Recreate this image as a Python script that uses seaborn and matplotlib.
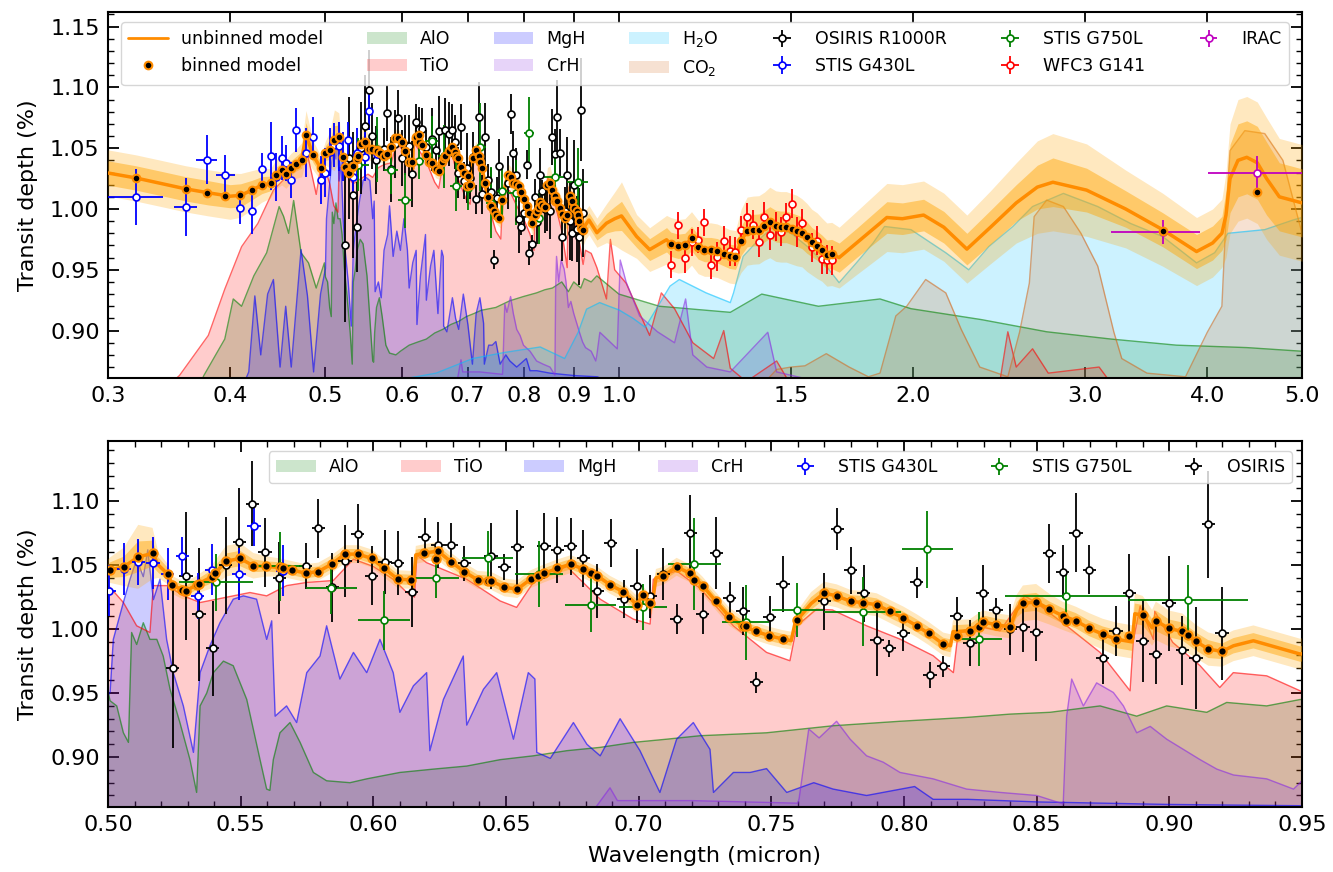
import matplotlib
matplotlib.use("Agg")
import matplotlib.pyplot as plt
from matplotlib.patches import Patch
from matplotlib.lines import Line2D
from matplotlib.ticker import MultipleLocator, FixedLocator, FixedFormatter, NullLocator
import seaborn as sns
import numpy as np

sns.set_style("ticks", {"axes.edgecolor": "black", "xtick.color": "black", "ytick.color": "black",
                        "text.color": "black", "axes.labelcolor": "black"})
plt.rcParams["font.family"] = ["DejaVu Sans"]

# ---- unbinned model (wavelength in micron, transit depth in %) + 1/2 sigma half widths
model_wl = [0.300, 0.320, 0.340, 0.360, 0.380, 0.400, 0.410, 0.421, 0.431, 0.440, 0.4454, 0.4517,
            0.4563, 0.4617, 0.4672, 0.4735, 0.4783, 0.4865, 0.4952,
            0.5008, 0.5060, 0.5114, 0.5168, 0.5190, 0.5225, 0.5242, 0.5280, 0.5294, 0.5334, 0.5391,
            0.5445, 0.5498, 0.5548, 0.5594, 0.5648, 0.5695, 0.5745, 0.5793, 0.5843, 0.5893, 0.5943,
            0.5994, 0.6041, 0.6092, 0.6142, 0.6150, 0.6160, 0.6192, 0.6243, 0.6293, 0.6343, 0.6393,
            0.6444, 0.6494, 0.6543, 0.6593, 0.6643, 0.6693, 0.6744, 0.6791, 0.6844, 0.6892, 0.6942,
            0.6993, 0.7015, 0.7043, 0.7050, 0.7065, 0.7093, 0.7143, 0.7194, 0.7241, 0.7292, 0.7342,
            0.7392, 0.7442, 0.7493, 0.7543, 0.7575, 0.7590, 0.7598, 0.7650, 0.7699, 0.7746, 0.7799,
            0.7844, 0.7897, 0.7947, 0.7998, 0.8048, 0.8093, 0.8148, 0.8175, 0.8185, 0.8247, 0.8297,
            0.8347, 0.8400, 0.8425, 0.8448, 0.8498, 0.8548, 0.8598, 0.8648, 0.8698, 0.8749, 0.8799,
            0.8860, 0.8870, 0.8900, 0.8935, 0.8949, 0.8999, 0.9049, 0.9100, 0.9147, 0.9198, 0.9242,
            0.9317, 0.9405, 0.9493,
            0.9710, 0.9900, 1.0060, 1.0424, 1.0750, 1.1187, 1.1300, 1.1496, 1.1680, 1.1865, 1.2050,
            1.2233, 1.2417, 1.2603, 1.2795, 1.2976, 1.3160, 1.3336, 1.3526, 1.3720, 1.3905, 1.4090,
            1.4268, 1.4470, 1.4640, 1.4830, 1.5020, 1.5200, 1.5390, 1.5570, 1.5750, 1.5950, 1.6130,
            1.6320, 1.6510, 1.6800, 1.7500, 1.8800, 1.9500, 2.0500, 2.1500, 2.2700, 2.4000, 2.5500,
            2.6800, 2.7800, 3.0100, 3.3000, 3.6000, 3.9000, 4.0500, 4.1400, 4.1800, 4.2200, 4.3000,
            4.3900, 4.5000, 4.6000, 4.7400, 5.0000]
model_val = [1.0296, 1.0256, 1.0210, 1.0166, 1.0133, 1.0105, 1.0112, 1.0155, 1.0196, 1.0210, 1.0283, 1.0318,
             1.0290, 1.0337, 1.0372, 1.0405, 1.0610, 1.0440, 1.0337,
             1.0461, 1.0487, 1.0565, 1.0591, 1.0500, 1.0430, 1.0346, 1.0305, 1.0300, 1.0346, 1.0409,
             1.0531, 1.0552, 1.0495, 1.0490, 1.0482, 1.0461, 1.0437, 1.0450, 1.0508, 1.0586, 1.0586,
             1.0552, 1.0474, 1.0390, 1.0385, 1.0330, 1.0580, 1.0594, 1.0610, 1.0526, 1.0448, 1.0385,
             1.0377, 1.0326, 1.0313, 1.0390, 1.0435, 1.0474, 1.0508, 1.0469, 1.0417, 1.0346, 1.0292,
             1.0190, 1.0268, 1.0201, 1.0180, 1.0400, 1.0417, 1.0487, 1.0435, 1.0339, 1.0216, 1.0096,
             1.0026, 0.9982, 0.9948, 0.9922, 0.9910, 1.0050, 1.0073, 1.0200, 1.0281, 1.0260, 1.0216,
             1.0208, 1.0190, 1.0138, 1.0086, 1.0026, 0.9966, 0.9883, 0.9870, 0.9980, 0.9987, 1.0057,
             1.0034, 1.0018, 1.0150, 1.0201, 1.0213, 1.0156, 1.0104, 1.0065, 1.0005, 0.9961, 0.9922,
             0.9900, 1.0120, 1.0109, 1.0010, 1.0065, 1.0005, 0.9982, 0.9904, 0.9844, 0.9826, 0.9870,
             0.9909, 0.9857, 0.9805,
             0.9883, 0.9920, 0.9943, 0.9774, 0.9666, 0.9747, 0.9710, 0.9693, 0.9700, 0.9758, 0.9688,
             0.9666, 0.9666, 0.9657, 0.9633, 0.9611, 0.9603, 0.9739, 0.9818, 0.9826, 0.9829, 0.9859,
             0.9889, 0.9859, 0.9853, 0.9853, 0.9837, 0.9823, 0.9804, 0.9766, 0.9728, 0.9698, 0.9666,
             0.9625, 0.9630, 0.9600, 0.9720, 0.9930, 0.9920, 0.9950, 0.9850, 0.9670, 0.9850, 1.0050,
             1.0180, 1.0220, 1.0155, 1.0000, 0.9830, 0.9650, 0.9720, 0.9800, 0.9950, 1.0250, 1.0400,
             1.0425, 1.0380, 1.0250, 1.0100, 1.0050]
sig1 = [0.010, 0.010, 0.010, 0.010, 0.010, 0.0095, 0.0095, 0.008, 0.007, 0.006, 0.006, 0.006,
        0.006, 0.006, 0.006, 0.007, 0.010, 0.006, 0.005,
        0.006, 0.008, 0.012, 0.010, 0.006, 0.005, 0.004, 0.004, 0.004, 0.004, 0.005,
        0.006, 0.006, 0.005, 0.004, 0.004, 0.004, 0.004, 0.004, 0.004, 0.004, 0.004,
        0.004, 0.004, 0.004, 0.004, 0.004, 0.004, 0.004, 0.004, 0.004, 0.004, 0.004,
        0.004, 0.004, 0.004, 0.004, 0.004, 0.004, 0.004, 0.004, 0.004, 0.004, 0.004,
        0.004, 0.004, 0.004, 0.004, 0.004, 0.004, 0.004, 0.004, 0.004, 0.004, 0.004,
        0.004, 0.004, 0.004, 0.004, 0.004, 0.004, 0.004, 0.005, 0.005, 0.005, 0.005,
        0.005, 0.005, 0.005, 0.005, 0.005, 0.005, 0.005, 0.005, 0.005, 0.005, 0.005,
        0.005, 0.005, 0.006, 0.007, 0.007, 0.006, 0.006, 0.006, 0.006, 0.006, 0.007,
        0.007, 0.008, 0.008, 0.007, 0.008, 0.007, 0.007, 0.007, 0.007, 0.006, 0.006,
        0.006, 0.006, 0.006,
        0.008, 0.010, 0.012, 0.009, 0.009, 0.010, 0.010, 0.010, 0.010, 0.010, 0.010,
        0.010, 0.010, 0.010, 0.010, 0.010, 0.010, 0.012, 0.013, 0.013, 0.013, 0.013,
        0.013, 0.013, 0.013, 0.013, 0.013, 0.013, 0.013, 0.013, 0.012, 0.012, 0.012,
        0.012, 0.012, 0.012, 0.012, 0.013, 0.013, 0.013, 0.013, 0.013, 0.014, 0.015,
        0.018, 0.020, 0.018, 0.015, 0.014, 0.014, 0.014, 0.014, 0.020, 0.028, 0.030,
        0.030, 0.030, 0.030, 0.028, 0.028]
sig2 = [0.019, 0.019, 0.019, 0.019, 0.019, 0.019, 0.018, 0.016, 0.014, 0.012, 0.012, 0.012,
        0.012, 0.012, 0.012, 0.014, 0.020, 0.012, 0.010,
        0.010, 0.015, 0.025, 0.020, 0.010, 0.008, 0.007, 0.007, 0.007, 0.007, 0.009,
        0.012, 0.012, 0.010, 0.008, 0.007, 0.007, 0.007, 0.007, 0.007, 0.007, 0.007,
        0.007, 0.007, 0.007, 0.007, 0.007, 0.007, 0.007, 0.007, 0.007, 0.007, 0.007,
        0.007, 0.007, 0.007, 0.007, 0.007, 0.007, 0.007, 0.007, 0.007, 0.007, 0.007,
        0.007, 0.007, 0.007, 0.007, 0.007, 0.007, 0.007, 0.007, 0.007, 0.007, 0.007,
        0.007, 0.007, 0.007, 0.007, 0.007, 0.007, 0.007, 0.009, 0.009, 0.009, 0.009,
        0.009, 0.009, 0.009, 0.009, 0.009, 0.009, 0.009, 0.009, 0.009, 0.009, 0.009,
        0.009, 0.009, 0.012, 0.014, 0.014, 0.012, 0.011, 0.011, 0.012, 0.012, 0.013,
        0.013, 0.016, 0.015, 0.014, 0.015, 0.014, 0.014, 0.013, 0.013, 0.012, 0.012,
        0.012, 0.012, 0.012,
        0.016, 0.022, 0.028, 0.018, 0.018, 0.020, 0.022, 0.022, 0.022, 0.022, 0.022,
        0.022, 0.022, 0.022, 0.022, 0.022, 0.022, 0.026, 0.028, 0.028, 0.028, 0.028,
        0.029, 0.029, 0.029, 0.029, 0.029, 0.029, 0.028, 0.028, 0.027, 0.027, 0.026,
        0.026, 0.026, 0.025, 0.026, 0.028, 0.028, 0.028, 0.028, 0.028, 0.030, 0.033,
        0.038, 0.040, 0.038, 0.032, 0.030, 0.028, 0.028, 0.028, 0.035, 0.045, 0.050,
        0.050, 0.050, 0.050, 0.048, 0.048]

# ---- binned model points
binned_wl = [0.3202, 0.3603, 0.3785, 0.3955, 0.4097, 0.4209, 0.4313, 0.4401, 0.4454, 0.4517, 0.4563,
             0.4617, 0.4672, 0.4735, 0.4783, 0.4865, 0.4952,
             0.5008, 0.5060, 0.5114, 0.5168, 0.5225, 0.5242, 0.5280, 0.5294, 0.5334, 0.5343, 0.5391,
             0.5403, 0.5445, 0.5498, 0.5548, 0.5594, 0.5648, 0.5658, 0.5695, 0.5745, 0.5793, 0.5843,
             0.5893, 0.5943, 0.5994, 0.6041, 0.6092, 0.6142, 0.6192, 0.6236, 0.6243, 0.6293, 0.6343,
             0.6393, 0.6431, 0.6444, 0.6494, 0.6543, 0.6593, 0.6622, 0.6643, 0.6693, 0.6744, 0.6791,
             0.6819, 0.6844, 0.6892, 0.6942, 0.6993, 0.7015, 0.7043, 0.7093, 0.7143, 0.7194, 0.7210,
             0.7241, 0.7292, 0.7342, 0.7392, 0.7405, 0.7442, 0.7493, 0.7543, 0.7598, 0.7699, 0.7746,
             0.7799, 0.7844, 0.7897, 0.7947, 0.7998, 0.8048, 0.8093, 0.8148, 0.8199, 0.8247, 0.8284,
             0.8297, 0.8347, 0.8400, 0.8448, 0.8498, 0.8548, 0.8598, 0.8611, 0.8648, 0.8698, 0.8749,
             0.8799, 0.8849, 0.8900, 0.8949, 0.8999, 0.9049, 0.9070, 0.9100, 0.9147, 0.9198,
             1.1300, 1.1496, 1.1680, 1.1865, 1.2050, 1.2233, 1.2417, 1.2603, 1.2795, 1.2976, 1.3160,
             1.3336, 1.3526, 1.3720, 1.3905, 1.4090, 1.4268, 1.4470, 1.4640, 1.4830, 1.5020, 1.5200,
             1.5390, 1.5570, 1.5750, 1.5950, 1.6130, 1.6320, 1.6510, 3.6000, 4.5000]
binned_val = [1.0256, 1.0166, 1.0133, 1.0106, 1.0114, 1.0155, 1.0196, 1.0210, 1.0283, 1.0318, 1.0290,
              1.0337, 1.0372, 1.0405, 1.0610, 1.0440, 1.0337,
              1.0461, 1.0487, 1.0565, 1.0591, 1.0430, 1.0346, 1.0305, 1.0300, 1.0346, 1.0350, 1.0409,
              1.0435, 1.0531, 1.0552, 1.0495, 1.0490, 1.0482, 1.0480, 1.0461, 1.0437, 1.0450, 1.0508,
              1.0586, 1.0586, 1.0552, 1.0474, 1.0390, 1.0385, 1.0594, 1.0550, 1.0610, 1.0526, 1.0448,
              1.0385, 1.0378, 1.0377, 1.0326, 1.0313, 1.0390, 1.0417, 1.0435, 1.0474, 1.0508, 1.0469,
              1.0435, 1.0417, 1.0346, 1.0292, 1.0190, 1.0268, 1.0201, 1.0417, 1.0487, 1.0435, 1.0385,
              1.0339, 1.0216, 1.0096, 1.0026, 1.0021, 0.9982, 0.9948, 0.9922, 1.0073, 1.0281, 1.0260,
              1.0216, 1.0208, 1.0190, 1.0138, 1.0086, 1.0026, 0.9966, 0.9883, 0.9948, 0.9987, 1.0018,
              1.0057, 1.0034, 1.0018, 1.0201, 1.0213, 1.0156, 1.0104, 1.0065, 1.0065, 1.0005, 0.9961,
              0.9922, 0.9948, 1.0109, 1.0065, 1.0005, 0.9982, 0.9953, 0.9904, 0.9844, 0.9826,
              0.9710, 0.9693, 0.9700, 0.9758, 0.9688, 0.9666, 0.9666, 0.9657, 0.9633, 0.9611, 0.9603,
              0.9739, 0.9818, 0.9826, 0.9829, 0.9859, 0.9889, 0.9859, 0.9853, 0.9853, 0.9837, 0.9823,
              0.9804, 0.9766, 0.9728, 0.9698, 0.9666, 0.9625, 0.9630, 0.9815, 1.0141]

# ---- observations
osiris_wl = [0.5244, 0.5294, 0.5343, 0.5394, 0.5443, 0.5495, 0.5544, 0.5592, 0.5645, 0.5745, 0.5793,
             0.5845, 0.5893, 0.5941, 0.5994, 0.6044, 0.6092, 0.6144, 0.6193, 0.6243, 0.6293, 0.6343,
             0.6443, 0.6494, 0.6543, 0.6643, 0.6693, 0.6744, 0.6791, 0.6844, 0.6895, 0.6945, 0.6993,
             0.7043, 0.7093, 0.7143, 0.7194, 0.7241, 0.7293, 0.7343, 0.7393, 0.7444, 0.7494, 0.7544,
             0.7699, 0.7749, 0.7799, 0.7848, 0.7898, 0.7944, 0.7998, 0.8048, 0.8098, 0.8148, 0.8199,
             0.8249, 0.8297, 0.8347, 0.8400, 0.8448, 0.8498, 0.8548, 0.8598, 0.8648, 0.8698, 0.8749,
             0.8799, 0.8849, 0.8900, 0.8949, 0.8999, 0.9049, 0.9100, 0.9147, 0.9198]
osiris_val = [0.970, 1.0417, 1.0117, 0.985, 1.050, 1.068, 1.098, 1.060, 1.040, 1.049, 1.0787,
              1.0326, 1.0534, 1.0747, 1.0417, 1.0526, 1.052, 1.029, 1.0716, 1.0656, 1.0661, 1.0513,
              1.0573, 1.0487, 1.0638, 1.065, 1.0617, 1.0646, 1.0552, 1.030, 1.0672, 1.0234, 1.0339,
              1.0255, 1.043, 1.0078, 1.0755, 1.0122, 1.0594, 1.0242, 1.0143, 0.9583, 1.0091, 1.0352,
              1.0216, 1.078, 1.046, 1.0279, 0.9914, 0.985, 0.9966, 1.0365, 0.964, 0.9708, 1.0099,
              0.989, 1.0279, 1.0151, 1.000, 1.0018, 0.998, 1.0594, 1.045, 1.0753, 1.0464, 0.9773,
              0.9982, 1.0279, 0.9904, 0.9805, 1.0201, 0.9836, 0.9773, 1.0818, 0.9966]
osiris_err = [0.063, 0.05, 0.052, 0.037, 0.038, 0.042, 0.033, 0.027, 0.028, 0.018, 0.023,
              0.027, 0.028, 0.023, 0.023, 0.025, 0.025, 0.027, 0.015, 0.018, 0.017, 0.014,
              0.026, 0.010, 0.029, 0.026, 0.026, 0.022, 0.022, 0.021, 0.019, 0.015, 0.029,
              0.017, 0.020, 0.012, 0.029, 0.016, 0.028, 0.013, 0.019, 0.008, 0.017, 0.022,
              0.022, 0.0165, 0.0185, 0.022, 0.028, 0.0065, 0.014, 0.012, 0.010, 0.008, 0.015,
              0.018, 0.022, 0.009, 0.020, 0.0195, 0.023, 0.023, 0.021, 0.031, 0.019, 0.020,
              0.0195, 0.031, 0.032, 0.023, 0.037, 0.027, 0.040, 0.042, 0.036]

g430_wl = [0.3202, 0.3603, 0.3785, 0.3955, 0.4097, 0.4209, 0.4313, 0.4401, 0.4454, 0.4517, 0.4563,
           0.4617, 0.4672, 0.4783, 0.4865, 0.4952, 0.5005, 0.5060, 0.5114, 0.5170, 0.5225, 0.5280,
           0.5338, 0.5391, 0.5494, 0.5550, 0.5658]
g430_val = [1.010, 1.0014, 1.0405, 1.0283, 1.0008, 0.9986, 1.0332, 1.0435, 1.0264, 1.0421, 1.038,
            1.0237, 1.065, 1.0462, 1.059, 1.0237, 1.030, 1.047, 1.0526, 1.0516, 1.043, 1.0568,
            1.026, 1.0463, 1.043, 1.0807, 1.0456]
g430_err = [0.023, 0.024, 0.020, 0.016, 0.013, 0.019, 0.013, 0.028, 0.020, 0.018, 0.015,
            0.015, 0.018, 0.020, 0.017, 0.020, 0.020, 0.020, 0.018, 0.020, 0.020, 0.015,
            0.018, 0.020, 0.020, 0.016, 0.020]
g430_xerr = [0.021, 0.010, 0.0095, 0.009, 0.004, 0.004, 0.003, 0.003, 0.003, 0.003, 0.003,
             0.003, 0.003, 0.003, 0.003, 0.003, 0.0025, 0.0025, 0.0025, 0.0025, 0.0025, 0.0025,
             0.0025, 0.0025, 0.0025, 0.0025, 0.0025]

g750_wl = [0.5406, 0.5648, 0.5842, 0.6040, 0.6236, 0.6431, 0.6623, 0.6819, 0.7015, 0.7209, 0.7403,
           0.7598, 0.7844, 0.8088, 0.8284, 0.8611, 0.9070]
g750_val = [1.0365, 1.049, 1.032, 1.007, 1.0396, 1.0555, 1.0432, 1.019, 1.0174, 1.0508, 1.0052,
            1.0151, 1.0135, 1.0625, 0.9922, 1.026, 1.0224]
g750_err = [0.022, 0.027, 0.020, 0.023, 0.015, 0.021, 0.026, 0.021, 0.018, 0.036, 0.029,
            0.021, 0.027, 0.030, 0.021, 0.020, 0.028]
g750_xerr = [0.014, 0.0085, 0.0095, 0.0097, 0.0085, 0.0097, 0.009, 0.0097, 0.009, 0.010, 0.009,
             0.0097, 0.0145, 0.0097, 0.0086, 0.023, 0.0226]

wfc3_wl = [1.130, 1.1496, 1.168, 1.1865, 1.205, 1.2233, 1.2417, 1.2603, 1.2795, 1.2976, 1.316,
           1.3336, 1.3526, 1.372, 1.3905, 1.409, 1.4268, 1.447, 1.464, 1.483, 1.502, 1.520,
           1.539, 1.575, 1.595, 1.613, 1.632, 1.651]
wfc3_val = [0.9543, 0.9867, 0.9595, 0.9725, 0.9745, 0.9891, 0.9538, 0.9606, 0.9736, 0.9655, 0.9647,
            0.9826, 0.9932, 0.987, 0.9725, 0.9937, 0.9782, 0.9856, 0.9812, 0.9932, 1.0043, 0.981,
            0.9883, 0.9684, 0.9739, 0.9587, 0.9584, 0.9578]
wfc3_err = [0.011, 0.011, 0.012, 0.011, 0.011, 0.011, 0.011, 0.012, 0.012, 0.012, 0.012,
            0.012, 0.012, 0.012, 0.012, 0.012, 0.012, 0.012, 0.012, 0.012, 0.012, 0.012,
            0.012, 0.012, 0.012, 0.012, 0.012, 0.012]

irac_wl = [3.6, 4.5]
irac_val = [0.981, 1.0296]
irac_err = [0.010, 0.0143]
irac_xerr = [[0.41, 0.49], [0.33, 0.60]]

# ---- molecular contributions
alo_wl = [0.300, 0.370, 0.376, 0.395, 0.403, 0.411, 0.423, 0.436, 0.449, 0.4537, 0.4592, 0.4646,
          0.4728, 0.4812, 0.4900, 0.4995, 0.5008, 0.5033, 0.5058, 0.5077, 0.5089, 0.5108, 0.5133,
          0.5158, 0.5184, 0.5208, 0.5234, 0.5271, 0.5309, 0.5334, 0.5347, 0.5372, 0.5397, 0.5435,
          0.5472, 0.5523, 0.5573, 0.5598, 0.5610, 0.5623, 0.5648, 0.5686, 0.5724, 0.5774, 0.5824,
          0.5912, 0.5975, 0.610, 0.6226, 0.6352, 0.6478, 0.6603, 0.6729, 0.6855, 0.698, 0.7106,
          0.7231, 0.7482, 0.7733, 0.7985, 0.8236, 0.840, 0.855, 0.8739, 0.8877, 0.899, 0.9141,
          0.9216, 0.9367, 0.9493, 1.0, 1.1, 1.3, 1.4, 1.6, 1.85, 1.99, 2.35, 2.74, 3.19, 3.72,
          4.39, 5.0]
alo_val = [0.80, 0.850, 0.863, 0.893, 0.926, 0.920, 0.945, 0.964, 1.002, 0.994, 0.980, 1.007,
           0.964, 0.9557, 0.935, 0.9557, 0.944, 0.940, 0.919, 0.9115, 0.9974, 0.988, 1.005,
           0.992, 0.992, 0.979, 0.953, 0.927, 0.898, 0.8724, 0.940, 0.950, 0.966, 0.975,
           0.9714, 0.945, 0.898, 0.875, 0.874, 0.898, 0.919, 0.927, 0.9115, 0.888, 0.8815,
           0.880, 0.883, 0.888, 0.8906, 0.893, 0.898, 0.901, 0.905, 0.9076, 0.9115, 0.914,
           0.9167, 0.919, 0.9245, 0.928, 0.931, 0.9336, 0.935, 0.940, 0.932, 0.940, 0.935,
           0.9427, 0.940, 0.945, 0.930, 0.920, 0.915, 0.930, 0.920, 0.926, 0.918, 0.909, 0.899,
           0.893, 0.888, 0.886, 0.883]

tio_wl = [0.300, 0.340, 0.355, 0.380, 0.395, 0.411, 0.427, 0.443, 0.464, 0.480, 0.490, 0.4955,
          0.5008, 0.5058, 0.5108, 0.5158, 0.5171, 0.5225, 0.5284, 0.5347, 0.541, 0.5472, 0.5535,
          0.5598, 0.5673, 0.5749, 0.5849, 0.5925, 0.600, 0.6075, 0.6126, 0.6155, 0.6164, 0.620,
          0.6352, 0.6478, 0.654, 0.6603, 0.6729, 0.6855, 0.698, 0.7043, 0.7055, 0.7143, 0.7231,
          0.7357, 0.7482, 0.757, 0.7596, 0.767, 0.773, 0.7859, 0.7985, 0.811, 0.8186, 0.8204,
          0.8274, 0.8362, 0.8438, 0.8455, 0.8496, 0.8613, 0.8739, 0.8852, 0.8864, 0.889, 0.894,
          0.8945, 0.9013, 0.9116, 0.919, 0.9241, 0.9367, 0.9493, 0.971, 0.980, 0.990, 1.017,
          1.075, 1.105, 1.14, 1.19, 1.25, 1.28, 1.30, 1.35, 1.45, 1.50, 2.45, 2.50, 2.55, 2.65,
          2.75, 3.1, 3.2, 5.0]
tio_val = [0.80, 0.850, 0.863, 0.896, 0.934, 0.969, 0.988, 1.0155, 1.032, 1.045, 1.012, 1.035,
           1.0326, 1.0208, 1.0026, 0.9974, 1.034, 1.034, 1.026, 1.0208, 1.0234, 1.026, 1.0286,
           1.026, 1.034, 1.0365, 1.038, 1.0547, 1.049, 1.039, 1.0287, 1.025, 1.058, 1.052,
           1.039, 1.022, 1.017, 1.0365, 1.049, 1.0234, 1.0078, 1.004, 1.039, 1.0456, 1.032,
           1.0026, 0.9818, 0.9753, 1.0026, 1.0156, 1.015, 1.0026, 0.9922, 0.9792, 0.966, 0.9974,
           1.0026, 0.9987, 1.021, 1.026, 1.021, 1.0026, 0.9818, 0.9518, 0.9909, 1.018, 0.992,
           1.014, 0.9896, 0.9714, 0.9544, 0.966, 0.9635, 0.9518, 0.926, 0.975, 0.950, 0.939,
           0.896, 0.931, 0.918, 0.890, 0.877, 0.900, 0.869, 0.858, 0.875, 0.855, 0.855, 0.899,
           0.870, 0.885, 0.865, 0.870, 0.855, 0.855]

mgh_wl = [0.300, 0.410, 0.418, 0.424, 0.430, 0.437, 0.443, 0.450, 0.456, 0.462, 0.4728, 0.480,
          0.487, 0.495, 0.5008, 0.502, 0.5058, 0.5083, 0.5108, 0.5133, 0.5150, 0.5171, 0.5196,
          0.5221, 0.5246, 0.5284, 0.5322, 0.5347, 0.5384, 0.5422, 0.5472, 0.551, 0.556, 0.5598,
          0.5617, 0.563, 0.5673, 0.5711, 0.5749, 0.5799, 0.5824, 0.5874, 0.5925, 0.5975, 0.6025,
          0.6075, 0.610, 0.6151, 0.6201, 0.6213, 0.6264, 0.6339, 0.6352, 0.6415, 0.6465, 0.6528,
          0.6584, 0.6609, 0.6616, 0.6667, 0.6754, 0.6805, 0.6855, 0.693, 0.7005, 0.708, 0.7143,
          0.7206, 0.7269, 0.7282, 0.7357, 0.742, 0.7482, 0.7558, 0.766, 0.7733, 0.7859, 0.804,
          0.811, 0.824, 0.850, 0.900, 0.950, 1.000, 5.0]
mgh_val = [0.80, 0.850, 0.866, 0.9285, 0.880, 0.930, 0.942, 0.870, 0.920, 0.870, 0.9666, 0.9285,
           0.866, 0.930, 0.951, 0.992, 1.021, 1.039, 1.0547, 1.041, 1.062, 1.023, 1.039,
           0.992, 0.966, 0.940, 0.9037, 0.966, 0.987, 1.005, 1.0234, 1.026, 1.0234, 0.992,
           1.0065, 0.932, 0.940, 0.927, 0.966, 0.979, 1.0026, 0.961, 0.9818, 0.966, 0.992,
           0.966, 0.935, 0.9557, 0.966, 0.905, 0.945, 0.979, 0.925, 0.953, 0.966, 0.914,
           0.966, 0.961, 0.9037, 0.899, 0.927, 0.910, 0.901, 0.930, 0.905, 0.8724, 0.914,
           0.927, 0.906, 0.8724, 0.888, 0.888, 0.891, 0.8724, 0.880, 0.875, 0.870, 0.877,
           0.867, 0.867, 0.865, 0.863, 0.862, 0.855, 0.855]

crh_wl = [0.300, 0.680, 0.6892, 0.692, 0.720, 0.760, 0.7605, 0.7641, 0.768, 0.7746, 0.7797, 0.7859,
          0.7922, 0.7985, 0.811, 0.8236, 0.8362, 0.850, 0.8600, 0.8613, 0.8632, 0.8676, 0.8726,
          0.8789, 0.8827, 0.8877, 0.8928, 0.899, 0.9053, 0.9116, 0.9179, 0.9242, 0.9367, 0.9468,
          0.9493, 0.956, 0.996, 1.003, 1.017, 1.05, 1.095, 1.14, 1.17, 1.19, 1.23, 1.30, 1.42,
          1.45, 1.60, 5.0]
crh_val = [0.80, 0.850, 0.876, 0.866, 0.866, 0.864, 0.868, 0.922, 0.915, 0.928, 0.914, 0.901,
           0.896, 0.888, 0.883, 0.875, 0.8724, 0.870, 0.8634, 0.932, 0.961, 0.940, 0.958,
           0.9505, 0.940, 0.919, 0.924, 0.914, 0.906, 0.898, 0.8906, 0.886, 0.883, 0.875,
           0.880, 0.8986, 0.885, 0.958, 0.940, 0.912, 0.899, 0.890, 0.926, 0.880, 0.870, 0.866,
           0.8986, 0.866, 0.858, 0.855]

h2o_wl = [0.300, 0.550, 0.620, 0.650, 0.7085, 0.7637, 0.8307, 0.880, 0.9085, 0.9265, 0.9557, 0.977,
          1.000, 1.034, 1.064, 1.128, 1.153, 1.228, 1.300, 1.310, 1.340, 1.390, 1.440, 1.500,
          1.560, 1.620, 1.680, 1.750, 1.820, 1.870, 1.990, 2.160, 2.280, 2.390, 2.530, 2.650,
          2.850, 3.090, 3.340, 3.600, 3.900, 4.070, 4.200, 4.580, 4.900, 5.000]
h2o_val = [0.80, 0.855, 0.862, 0.865, 0.877, 0.882, 0.8865, 0.877, 0.8986, 0.9176, 0.923, 0.920,
           0.917, 0.910, 0.9027, 0.9366, 0.942, 0.931, 0.923, 0.931, 0.961, 0.9747, 0.9856, 0.980,
           0.969, 0.9557, 0.9394, 0.9557, 0.972, 0.9856, 0.983, 0.964, 0.950, 0.969, 0.9856, 1.002,
           1.0128, 1.002, 0.988, 0.9774, 0.9557, 0.964, 0.980, 0.983, 0.991, 0.993]

co2_wl = [0.300, 1.40, 1.45, 1.50, 1.55, 1.63, 1.72, 1.80, 1.85, 1.92, 1.97, 2.06, 2.16, 2.24, 2.34,
          2.50, 2.57, 2.63, 2.66, 2.74, 2.85, 2.97, 3.09, 3.21, 3.27, 3.47, 3.80, 4.00, 4.14, 4.18,
          4.22, 4.37, 4.58, 4.78, 4.90, 5.00]
co2_val = [0.80, 0.855, 0.868, 0.870, 0.871, 0.881, 0.870, 0.862, 0.865, 0.912, 0.920, 0.942, 0.931,
           0.901, 0.870, 0.862, 0.8986, 0.939, 0.9937, 1.0073, 1.002, 0.980, 0.953, 0.8986, 0.877,
           0.865, 0.862, 0.8986, 0.920, 0.9937, 1.048, 1.0644, 1.062, 1.040, 1.007, 0.980]

species = [("AlO", alo_wl, alo_val, "green"),
           ("TiO", tio_wl, tio_val, "red"),
           ("MgH", mgh_wl, mgh_val, "blue"),
           ("CrH", crh_wl, crh_val, "blueviolet"),
           ("H$_2$O", h2o_wl, h2o_val, "deepskyblue"),
           ("CO$_2$", co2_wl, co2_val, "chocolate")]

fig = plt.figure(figsize=(13.33, 8.72), dpi=100)
ax1 = fig.add_axes([108 / 1333, 1 - 378 / 872, 1194 / 1333, 366 / 872])
ax2 = fig.add_axes([108 / 1333, 1 - 807 / 872, 1194 / 1333, 366 / 872])
ax1.set_xscale("log")

mw = np.array(model_wl)
mv = np.array(model_val)
s1 = np.array(sig1)
s2 = np.array(sig2)


def draw_panel(ax, names):
    for name, wl, val, col in species:
        if name not in names:
            continue
        ax.fill_between(wl, 0.80, val, color=col, alpha=0.2, lw=0, zorder=1)
        sns.lineplot(x=wl, y=val, ax=ax, color=col, alpha=0.6, lw=1, estimator=None,
                     sort=False, legend=False, zorder=2)
    ax.fill_between(mw, mv - s2, mv + s2, color="orange", alpha=0.25, lw=0, zorder=3)
    ax.fill_between(mw, mv - s1, mv + s1, color="orange", alpha=0.45, lw=0, zorder=3)
    sns.lineplot(x=model_wl, y=model_val, ax=ax, color="darkorange", lw=2.5, estimator=None,
                 sort=False, legend=False, zorder=4)


def errbars(ax, wl, val, yerr, xerr, col):
    return ax.errorbar(wl, val, yerr=yerr, xerr=xerr, fmt="o", ms=5, mfc="white", mec=col,
                       mew=1.2, ecolor=col, elinewidth=1.3, capsize=0, zorder=5)


leg_kw = dict(ncol=7, fontsize=12.5, handlelength=2.3, handletextpad=0.75, borderaxespad=0.6)

# ---- top panel
draw_panel(ax1, ["AlO", "TiO", "MgH", "CrH", "H$_2$O", "CO$_2$"])
eb_os = errbars(ax1, osiris_wl, osiris_val, osiris_err, 0.0025, "black")
eb_430 = errbars(ax1, g430_wl, g430_val, g430_err, g430_xerr, "blue")
eb_750 = errbars(ax1, g750_wl, g750_val, g750_err, g750_xerr, "green")
eb_wfc = errbars(ax1, wfc3_wl, wfc3_val, wfc3_err, 0.004, "red")
eb_ir = errbars(ax1, irac_wl, irac_val, irac_err, irac_xerr, "m")
ax1.plot(binned_wl, binned_val, "o", color="black", mec="darkorange", ms=5.5, mew=1.5, zorder=6)

ax1.set_xlim(0.3, 5.0)
ax1.set_ylim(0.861, 1.162)
xt = [0.3, 0.4, 0.5, 0.6, 0.7, 0.8, 0.9, 1.0, 1.5, 2.0, 3.0, 4.0, 5.0]
ax1.xaxis.set_major_locator(FixedLocator(xt))
ax1.xaxis.set_major_formatter(FixedFormatter(["%.1f" % t for t in xt]))
ax1.xaxis.set_minor_locator(NullLocator())
ax1.set_ylabel("Transit depth (%)", fontsize=16, labelpad=9)

patches = [Patch(facecolor=c, alpha=0.2, edgecolor="none") for _, _, _, c in species]
h_model = Line2D([], [], color="darkorange", lw=2)
h_binned = Line2D([], [], ls="none", marker="o", color="black", mec="darkorange", ms=5.5, mew=1.5)
top_handles = [h_model, h_binned] + patches + [eb_os, eb_430, eb_750, eb_wfc, eb_ir]
top_labels = ["unbinned model", "binned model", "AlO", "TiO", "MgH", "CrH", "H$_2$O", "CO$_2$",
              "OSIRIS R1000R", "STIS G430L", "STIS G750L", "WFC3 G141", "IRAC"]
ax1.legend(top_handles, top_labels, loc="upper center", columnspacing=2.5, **leg_kw)

# ---- bottom panel
draw_panel(ax2, ["AlO", "TiO", "MgH", "CrH"])
b_os = errbars(ax2, osiris_wl, osiris_val, osiris_err, 0.0025, "black")
b_430 = errbars(ax2, g430_wl, g430_val, g430_err, g430_xerr, "blue")
b_750 = errbars(ax2, g750_wl, g750_val, g750_err, g750_xerr, "green")
ax2.plot(binned_wl, binned_val, "o", color="black", mec="darkorange", ms=6, mew=1.5, zorder=6)

ax2.set_xlim(0.5, 0.95)
ax2.set_ylim(0.861, 1.147)
ax2.xaxis.set_major_locator(MultipleLocator(0.05))
ax2.xaxis.set_minor_locator(MultipleLocator(0.01))
ax2.xaxis.set_major_formatter(plt.FormatStrFormatter("%.2f"))
ax2.set_xlabel("Wavelength (micron)", fontsize=16, labelpad=8)
ax2.set_ylabel("Transit depth (%)", fontsize=16, labelpad=9)
ax2.legend(patches[:4] + [b_430, b_750, b_os],
           ["AlO", "TiO", "MgH", "CrH", "STIS G430L", "STIS G750L", "OSIRIS"],
           loc="upper right", columnspacing=2.4, **leg_kw)

for ax in (ax1, ax2):
    ax.yaxis.set_major_locator(MultipleLocator(0.05))
    ax.yaxis.set_minor_locator(MultipleLocator(0.01))
    ax.yaxis.set_major_formatter(plt.FormatStrFormatter("%.2f"))
    ax.tick_params(which="both", direction="in", top=True, right=True, labelsize=16, pad=6)
    ax.tick_params(which="major", length=8, width=1.3)
    ax.tick_params(which="minor", length=4, width=1.0)
    for sp in ax.spines.values():
        sp.set_linewidth(1.5)

fig.savefig("out.png", dpi=100)
